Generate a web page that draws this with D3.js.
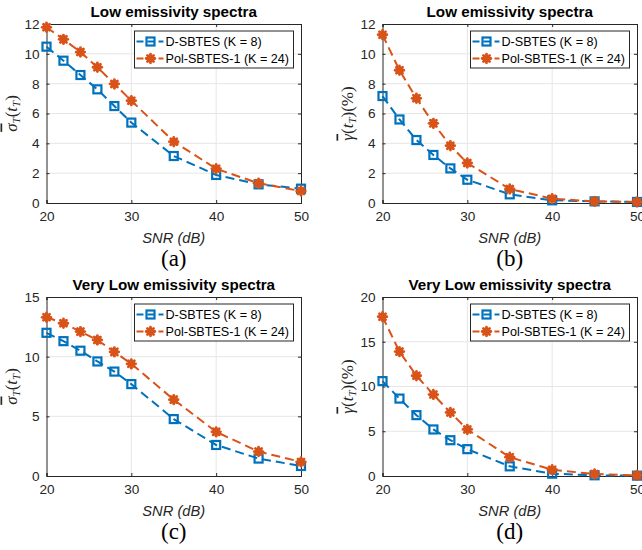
<!DOCTYPE html>
<html lang="en">
<head>
<meta charset="UTF-8">
<title>SNR panels</title>
<script src="https://cdn.jsdelivr.net/npm/d3@7"></script>
<style>
  body { margin: 0; background: #fff; }
  svg text { font-family: Arial, "Liberation Sans", Helvetica, sans-serif; }
</style>
</head>
<body>
<svg id="chart" width="642" height="550"></svg>
<script>
// SNR values on the x axis (dB)
const snr = [20, 22, 24, 26, 28, 30, 35, 40, 45, 50];
const xTicks = [20, 30, 40, 50];

const seriesNames = ["D-SBTES (K = 8)", "Pol-SBTES-1 (K = 24)"];

// (a) low emissivity, sigma
const aDsbtes = [10.48, 9.54, 8.58, 7.62, 6.5, 5.39, 3.15, 1.88, 1.25, 0.96];
const aPol    = [11.78, 10.97, 10.12, 9.1, 7.98, 6.86, 4.11, 2.3, 1.32, 0.8];
// (b) low emissivity, gamma (%)
const bDsbtes = [7.17, 5.6, 4.22, 3.22, 2.32, 1.56, 0.58, 0.18, 0.11, 0.07];
const bPol    = [11.28, 8.9, 7.02, 5.34, 3.84, 2.68, 0.94, 0.29, 0.11, 0.07];
// (c) very low emissivity, sigma
const cDsbtes = [12.0, 11.3, 10.5, 9.6, 8.75, 7.7, 4.77, 2.6, 1.46, 0.84];
const cPol    = [13.3, 12.8, 12.1, 11.4, 10.4, 9.4, 6.4, 3.7, 2.05, 1.18];
// (d) very low emissivity, gamma (%)
const dDsbtes = [10.6, 8.65, 6.8, 5.2, 4.0, 3.0, 1.08, 0.26, 0.08, 0.04];
const dPol    = [17.8, 13.9, 11.2, 9.1, 7.1, 5.2, 2.1, 0.7, 0.22, 0.07];

const yTicksLow = [0, 2, 4, 6, 8, 10, 12];
const yTicksC = [0, 5, 10, 15];
const yTicksD = [0, 5, 10, 15, 20];

const blue = "#0072BD", orange = "#D95319", axisCol = "#262626";

const panels = [
  {left: 46.5, top: 24, title: "Low emissivity spectra", cap: "(a)", ymax: 12, yt: yTicksLow, ylab: "sigma", s: [aDsbtes, aPol]},
  {left: 382.5, top: 24, title: "Low emissivity spectra", cap: "(b)", ymax: 12, yt: yTicksLow, ylab: "gamma", s: [bDsbtes, bPol]},
  {left: 46.5, top: 297, title: "Very Low emissivity spectra", cap: "(c)", ymax: 15, yt: yTicksC, ylab: "sigma", s: [cDsbtes, cPol]},
  {left: 382.5, top: 297, title: "Very Low emissivity spectra", cap: "(d)", ymax: 20, yt: yTicksD, ylab: "gamma", s: [dDsbtes, dPol]}
];
const W = 254.5, H = 179;

const svg = d3.select("#chart");

function marker(g, k, cx, cy) {
  if (k == 0) {
    g.append("rect").attr("x", cx - 4).attr("y", cy - 4).attr("width", 8).attr("height", 8)
      .attr("fill", "none").attr("stroke", blue).attr("stroke-width", 2.2);
  } else {
    const r = 4.3;
    const m = g.append("g").attr("transform", "translate(" + cx + "," + cy + ")")
      .attr("stroke", orange).attr("stroke-width", 2.8).attr("stroke-linecap", "round");
    [0, 45, 90, 135].forEach(function(a) {
      const t = a * Math.PI / 180;
      m.append("line").attr("x1", -r * Math.cos(t)).attr("y1", -r * Math.sin(t))
        .attr("x2", r * Math.cos(t)).attr("y2", r * Math.sin(t));
    });
    m.append("circle").attr("r", 3.8).attr("fill", orange).attr("stroke", "none");
  }
}

panels.forEach(function(p) {
  const g = svg.append("g").attr("transform", "translate(" + p.left + "," + p.top + ")");
  const x = d3.scaleLinear().domain([20, 50]).range([0, W]);
  const y = d3.scaleLinear().domain([0, p.ymax]).range([H, 0]);

  // grid
  g.append("g").selectAll("line").data(xTicks.slice(1, -1)).enter().append("line")
    .attr("x1", d => x(d)).attr("x2", d => x(d)).attr("y1", 0).attr("y2", H)
    .attr("stroke", "#e6e6e6").attr("stroke-width", 1);
  g.append("g").selectAll("line").data(p.yt.slice(1, -1)).enter().append("line")
    .attr("x1", 0).attr("x2", W).attr("y1", d => y(d)).attr("y2", d => y(d))
    .attr("stroke", "#e6e6e6").attr("stroke-width", 1);

  // axes (ticks pointing inward, like MATLAB)
  g.append("g").attr("transform", "translate(0," + H + ")")
    .call(d3.axisBottom(x).tickValues(xTicks).tickSize(-3).tickPadding(8));
  g.append("g")
    .call(d3.axisLeft(y).tickValues(p.yt).tickSize(-3).tickPadding(7));
  g.append("g")
    .call(d3.axisTop(x).tickValues(xTicks).tickSize(-3).tickFormat(""));
  g.append("g").attr("transform", "translate(" + W + ",0)")
    .call(d3.axisRight(y).tickValues(p.yt).tickSize(-3).tickFormat(""));
  g.selectAll(".domain").attr("stroke", axisCol).attr("stroke-width", 1);
  g.selectAll(".tick line").attr("stroke", axisCol);
  g.selectAll(".tick text").attr("fill", axisCol).style("font-size", "13.6px");

  // series
  p.s.forEach(function(vals, k) {
    const col = k == 0 ? blue : orange;
    const line = d3.line().x((d, i) => x(snr[i])).y(d => y(d));
    g.append("path").datum(vals).attr("d", line).attr("fill", "none")
      .attr("stroke", col).attr("stroke-width", 2).attr("stroke-dasharray", "9,5");
    vals.forEach(function(v, i) { marker(g, k, x(snr[i]), y(v)); });
  });

  // legend
  const lg = g.append("g").attr("transform", "translate(88,7)");
  lg.append("rect").attr("width", 159).attr("height", 37).attr("fill", "#fff")
    .attr("stroke", axisCol).attr("stroke-width", 1);
  seriesNames.forEach(function(n, k) {
    const ly = 10.5 + k * 17;
    const col = k == 0 ? blue : orange;
    lg.append("line").attr("x1", 2).attr("x2", 29).attr("y1", ly).attr("y2", ly)
      .attr("stroke", col).attr("stroke-width", 2).attr("stroke-dasharray", "7,4");
    marker(lg, k, 16, ly);
    lg.append("text").attr("x", 31).attr("y", ly + 4.5).attr("fill", "#000")
      .style("font-size", "12.6px").text(n);
  });

  // title
  g.append("text").attr("x", W / 2).attr("y", -7).attr("text-anchor", "middle")
    .style("font-size", "15.2px").style("font-weight", "bold").attr("fill", "#000").text(p.title);

  // x label
  g.append("text").attr("x", W / 2).attr("y", H + 40).attr("text-anchor", "middle")
    .style("font-size", "14.7px").style("font-style", "italic").attr("fill", axisCol).text("SNR (dB)");

  // caption
  g.append("text").attr("x", W / 2).attr("y", H + 63).attr("text-anchor", "middle")
    .style("font-family", "'Liberation Serif', 'Times New Roman', serif").style("font-size", "23px")
    .attr("fill", "#000").text(p.cap);

  // y label (math style)
  const yl = g.append("text").attr("transform", "translate(-30," + (H / 2) + ") rotate(-90)")
    .attr("text-anchor", "middle").attr("fill", axisCol)
    .style("font-family", "'Liberation Serif', 'DejaVu Serif', serif").style("font-size", "17px");
  if (p.ylab == "sigma") {
    yl.append("tspan").style("font-style", "italic").style("text-decoration", "overline").text("σ");
    yl.append("tspan").style("font-style", "italic").style("font-size", "11px").attr("dy", 3).text("T");
    yl.append("tspan").attr("dy", -3).text("(");
    yl.append("tspan").style("font-style", "italic").text("t");
    yl.append("tspan").style("font-style", "italic").style("font-size", "11px").attr("dy", 3).text("T");
    yl.append("tspan").attr("dy", -3).text(")");
  } else {
    yl.append("tspan").style("font-style", "italic").style("text-decoration", "overline").text("γ");
    yl.append("tspan").text("(");
    yl.append("tspan").style("font-style", "italic").text("t");
    yl.append("tspan").style("font-style", "italic").style("font-size", "11px").attr("dy", 3).text("T");
    yl.append("tspan").attr("dy", -3).text(")(%)");
  }
});
</script>
</body>
</html>
